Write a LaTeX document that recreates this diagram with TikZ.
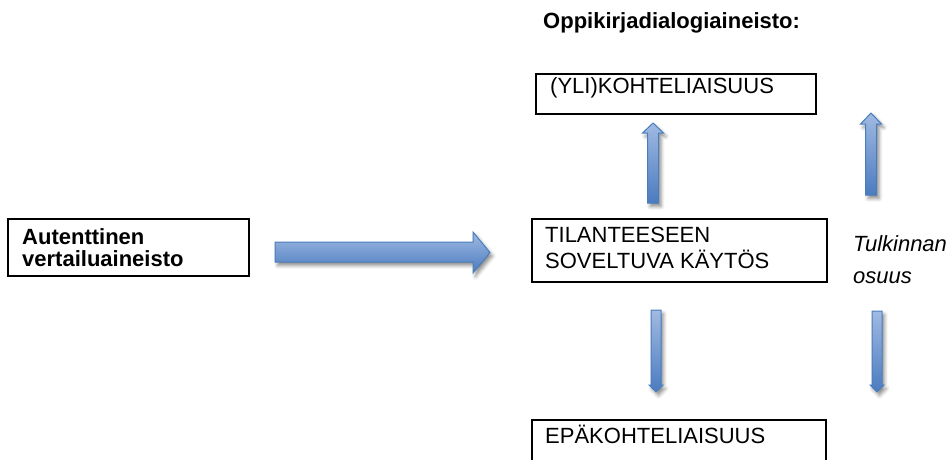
\documentclass[tikz,border=0pt]{standalone}
\usepackage{fontspec}
\setmainfont{Liberation Sans}
\usetikzlibrary{positioning,calc,shadows,shadows.blur}
\definecolor{arrlight}{HTML}{A0BAE2}
\definecolor{arrdark}{HTML}{4B7BC0}
\definecolor{arrline}{HTML}{4A7EBB}

\begin{document}
\begin{tikzpicture}[x=1pt, y=-1pt,
    box/.style={draw, line width=1.6pt, outer sep=0pt, inner sep=0pt, anchor=north west},
    boxtext/.style={inner sep=0pt, align=left, font=\fontsize{22}{26}\selectfont},
    blockarr/.style={draw=arrline, line width=1pt, top color=arrlight, bottom color=arrdark,
        blur shadow={shadow xshift=2.5pt, shadow yshift=-3.5pt, shadow opacity=45, shadow blur radius=3.5pt}},
]
    \useasboundingbox (0,0) rectangle (950,459);

    % boxes
    \node[box, minimum width=241pt, minimum height=57pt] (auth) at (8,219) {};
    \node[box, minimum width=280pt, minimum height=40pt] (yli) at (536,74) {};
    \node[box, minimum width=295pt, minimum height=63pt] (til) at (532,219) {};
    \node[box, minimum width=294pt, minimum height=60pt] (epa) at (532,420) {};

    % texts
    \node[boxtext, font=\bfseries\fontsize{22}{22}\selectfont, anchor=north west] (authtext)
        at ([xshift=14pt, yshift=-9pt]auth.north west) {Autenttinen\\vertailuaineisto};
    \node[boxtext, anchor=base west] (ylitext) at ([xshift=14pt, yshift=-19pt]yli.north west) {(YLI)KOHTELIAISUUS};
    \node[boxtext, anchor=north west] (tiltext)
        at ([xshift=13pt, yshift=-7.5pt]til.north west) {TILANTEESEEN\\SOVELTUVA KÄYTÖS};
    \node[boxtext, anchor=base west] (epatext) at ([xshift=13pt, yshift=-23pt]epa.north west) {EPÄKOHTELIAISUUS};
    \node[boxtext, font=\bfseries\fontsize{22}{22}\selectfont, anchor=base west] (title) at (543,28.5) {Oppikirjadialogiaineisto:};
    \node[boxtext, font=\itshape\fontsize{22}{32}\selectfont, anchor=north west] (tulk)
        at ([xshift=26pt, yshift=-16pt]til.north east) {Tulkinnan\\osuus};

    % block arrows
    \path[blockarr] (275,242) -- (473,242) -- (473,232) -- (490,252.5) -- (473,273) -- (473,262) -- (275,262) -- cycle;
    \path[blockarr] (647.5,203) -- (647.5,133) -- (642.5,133) -- (653,123) -- (663.5,133) -- (658.5,133) -- (658.5,203) -- cycle;
    \path[blockarr] (865.5,195) -- (865.5,124) -- (860.5,124) -- (871,113) -- (881.5,124) -- (876.5,124) -- (876.5,195) -- cycle;
    \path[blockarr] (651,310) -- (661,310) -- (661,385) -- (663,385) -- (656,392) -- (649,385) -- (651,385) -- cycle;
    \path[blockarr] (872,311) -- (882,311) -- (882,385) -- (884,385) -- (877,392) -- (870,385) -- (872,385) -- cycle;
\end{tikzpicture}
\end{document}
